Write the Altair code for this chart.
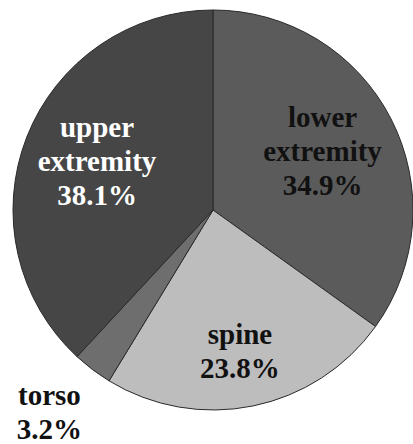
import math
import altair as alt
import pandas as pd

categories = ["lower extremity", "spine", "torso", "upper extremity"]
percent = [34.9, 23.8, 3.2, 38.1]
slice_colors = ["#5b5b5b", "#bdbdbd", "#6e6e6e", "#464646"]

# label styling per category: (radius from centre, dx, dy, text colour)
label_style = {
    "lower extremity": (131, -7, -32, "#111111"),
    "spine": (145, -2, -17, "#111111"),
    "torso": (258, -8, -20, "#111111"),
    "upper extremity": (116, -8, -40, "#ffffff"),
}

df = pd.DataFrame({"part": categories, "pct": percent, "order": list(range(len(categories)))})

theta_scale = alt.Scale(domain=[0, 100], range=[0, 2 * math.pi])


def with_angles(chart):
    return chart.transform_window(
        cum="sum(pct)", sort=[alt.SortField("order")], frame=[None, 0]
    ).transform_calculate(
        start="datum.cum - datum.pct",
        mid="datum.cum - datum.pct / 2",
        label="datum.part + ' ' + format(datum.pct, '.1f') + '%'",
    )


pie = with_angles(alt.Chart(df)).mark_arc(stroke="#2a2a2a", strokeWidth=1).encode(
    theta=alt.Theta("start:Q", scale=theta_scale),
    theta2="cum:Q",
    color=alt.Color("part:N", scale=alt.Scale(domain=categories, range=slice_colors), legend=None),
)

layers = [pie]
for name in categories:
    r, dx, dy, col = label_style[name]
    t = with_angles(alt.Chart(df)).transform_filter(
        alt.datum.part == name
    ).mark_text(
        radius=r,
        dx=dx,
        dy=dy,
        font="Liberation Serif",
        fontWeight="bold",
        fontSize=29,
        lineHeight=34,
        lineBreak=" ",
        align="center",
        baseline="middle",
        color=col,
    ).encode(
        theta=alt.Theta("mid:Q", scale=theta_scale),
        text="label:N",
    )
    layers.append(t)

chart = alt.layer(*layers).properties(
    width=400,
    height=400,
    autosize=alt.AutoSizeParams(type="none"),
    padding={"left": 13, "top": 10, "right": 0, "bottom": 34},
    background="white",
).configure_view(stroke=None)

chart.save("out.html", embed_options={"renderer": "svg", "actions": False})
